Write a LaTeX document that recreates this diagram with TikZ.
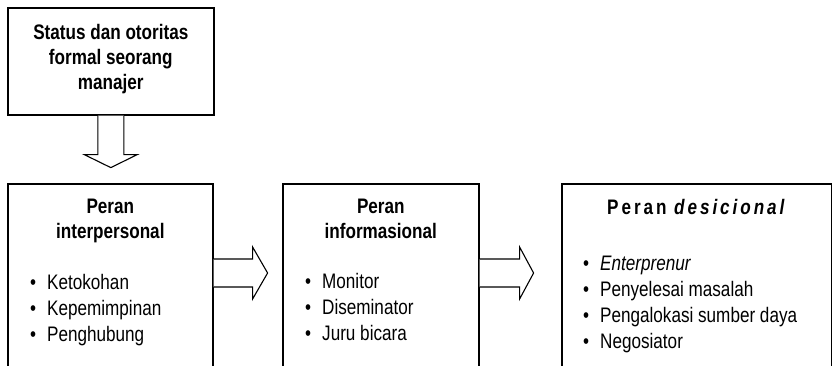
\documentclass[tikz,border=0pt]{standalone}
\usepackage{fontspec}
\setmainfont{Liberation Sans}[FakeStretch=0.815]
\usetikzlibrary{calc,positioning}
\newcommand\butir{\makebox[17pt][l]{\textbullet}}

\begin{document}
\begin{tikzpicture}[x=1pt,y=-1pt,
  kotak/.style={draw,line width=1.6pt,rectangle,inner sep=0pt,anchor=north west},
  judul/.style={font=\fontsize{21}{25}\selectfont\bfseries,align=center,inner sep=0pt},
  daftar/.style={font=\fontsize{21}{25.8}\selectfont,align=left,inner sep=0pt,anchor=base west},
  panah/.style={draw,line width=1.1pt,line join=miter,fill=white}]
\useasboundingbox (0,0) rectangle (832,365);
\clip (0,0) rectangle (832,365);
%KOTAK ATAS
\node[kotak,minimum width=206pt,minimum height=107pt] (status) at (7,7) {};
\node[judul,anchor=base] (judulstatus) at ($(status.north)+(0,82)$) {Status dan otoritas\\formal seorang\\manajer};
%TIGA PERAN
\node[kotak,minimum width=205pt,minimum height=230pt] (peran1) at (7,183) {};
\node[kotak,minimum width=196pt,minimum height=230pt] (peran2) at (282,183) {};
\node[kotak,minimum width=270pt,minimum height=230pt] (peran3) at (561,183) {};
\node[judul,anchor=base] (judul1) at ($(peran1.north)+(0,55)$) {Peran\\interpersonal};
\node[judul,anchor=base] (judul2) at ($(peran2.north)+(0,55)$) {Peran\\informasional};
\node[judul,anchor=base west] (judul3) at ($(peran3.north west)+(46,31)$) {\addfontfeature{LetterSpace=14}Peran \textit{\addfontfeature{LetterSpace=14}desicional}};
\node[daftar] (daftar1) at ($(peran1.north west)+(23,158)$) {\butir Ketokohan\\\butir Kepemimpinan\\\butir Penghubung};
\node[daftar] (daftar2) at ($(peran2.north west)+(23,157)$) {\butir Monitor\\\butir Diseminator\\\butir Juru bicara};
\node[daftar] (daftar3) at ($(peran3.north west)+(22,165)$) {\butir \textit{Enterprenur}\\\butir Penyelesai masalah\\\butir Pengalokasi sumber daya\\\butir Negosiator};
%PANAH
\draw[panah] ($(status.south)+(-13,0)$) -- ++(0,39) -- ++(-13.5,0) -- ($(status.south)+(0,52)$) -- ($(status.south)+(26.5,39)$) -- ++(-13.5,0) -- ($(status.south)+(13,0)$);
\coordinate (p1) at ($(peran1.north east)+(0,90)$);
\coordinate (p2) at ($(peran2.north east)+(0,90)$);
\draw[panah] ($(p1)+(0,-14)$) -- ++(39,0) -- ++(0,-12) -- ($(p1)+(54,0)$) -- ($(p1)+(39,26)$) -- ++(0,-12) -- ($(p1)+(0,14)$);
\draw[panah] ($(p2)+(0,-14)$) -- ++(40,0) -- ++(0,-12) -- ($(p2)+(54,0)$) -- ($(p2)+(40,26)$) -- ++(0,-12) -- ($(p2)+(0,14)$);
\end{tikzpicture}
\end{document}
